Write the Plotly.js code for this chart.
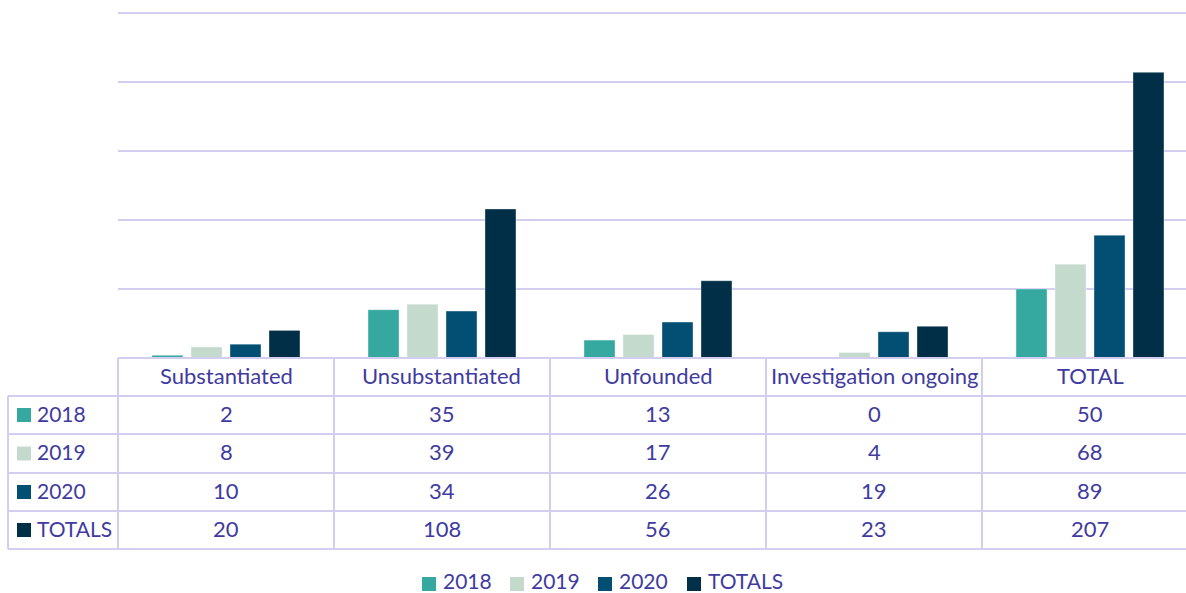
<!DOCTYPE html>
<html><head><meta charset="utf-8">
<script src="https://cdn.plot.ly/plotly-3.0.1.min.js"></script>
<style>html,body{margin:0;padding:0;background:#fff;}#chart{width:1186px;height:593px;}</style>
</head><body><div id="chart"></div>
<script>
const categories = ["Substantiated", "Unsubstantiated", "Unfounded", "Investigation ongoing", "TOTAL"];
const seriesNames = ["2018", "2019", "2020", "TOTALS"];
const values2018 = [2, 35, 13, 0, 50];
const values2019 = [8, 39, 17, 4, 68];
const values2020 = [10, 34, 26, 19, 89];
const valuesTotals = [20, 108, 56, 23, 207];
const seriesValues = [values2018, values2019, values2020, valuesTotals];
const colors = ["#35A9A0", "#C3DACD", "#024F73", "#012F47"];

const W = 1186, H = 593;
const mL = 118, mR = 0, mT = 0, mB = 235;
const plotW = W - mL - mR, plotH = H - mT - mB;
const catPx = 216;
const pxPerUnit = 1.38;
const xr = [-0.5, -0.5 + plotW / catPx];
const yr = [0, plotH / pxPerUnit];
const gridVals = [50, 100, 150, 200, 250];
const textColor = "#3F3BA0";
const lineColor = "#D3CDF0";
const fontFam = "Lato, 'Noto Sans', sans-serif";
const fs = 22;

function px2px(x){ return (x - mL) / plotW; }      // pixel x -> paper x
function py2p(y){ return (H - mB - y) / plotH; }   // pixel y -> paper y
function cat2p(v){ return (v - xr[0]) / (xr[1] - xr[0]); }

const traces = seriesNames.map((n, i) => ({
  type: "bar", name: n, x: categories.map((c, k) => k), y: seriesValues[i],
  marker: {color: colors[i], line: {color: "rgba(255,255,255,0.6)", width: 0.6}},
  hoverinfo: "skip", showlegend: false
}));

const rowY = [358, 396, 434, 473, 511, 549];
const leftX = 8;
const tShift = 2;
const shapes = [], annotations = [];
shapes.push({type:"line", xref:"paper", yref:"paper", x0:0, x1:1, y0:py2p(rowY[0]), y1:py2p(rowY[0]), line:{color:lineColor, width:2}});
for (let r = 1; r < rowY.length; r++) {
  shapes.push({type:"line", xref:"paper", yref:"paper", x0:px2px(leftX), x1:1, y0:py2p(rowY[r]), y1:py2p(rowY[r]), line:{color:lineColor, width:2}});
}
shapes.push({type:"line", xref:"paper", yref:"paper", x0:px2px(leftX), x1:px2px(leftX), y0:py2p(rowY[1]), y1:py2p(rowY[5]), line:{color:lineColor, width:2}});
for (let k = 0; k < categories.length; k++) {
  const xp = cat2p(k - 0.5);
  shapes.push({type:"line", xref:"paper", yref:"paper", x0:xp, x1:xp, y0:py2p(rowY[0]), y1:py2p(rowY[5]), line:{color:lineColor, width:2}});
}
categories.forEach((c, k) => {
  annotations.push({xref:"paper", yref:"paper", x:cat2p(k), y:py2p((rowY[0]+rowY[1])/2 - tShift), text:c, showarrow:false,
    xanchor:"center", yanchor:"middle", font:{family:fontFam, size:fs, color:textColor}});
});
seriesNames.forEach((n, i) => {
  const ycPx = (rowY[i+1] + rowY[i+2]) / 2;
  const yc = py2p(ycPx - tShift);
  shapes.push({type:"rect", xref:"paper", yref:"paper", x0:px2px(17), x1:px2px(31),
    y0:py2p(ycPx - 7), y1:py2p(ycPx + 7), fillcolor:colors[i], line:{width:0}});
  annotations.push({xref:"paper", yref:"paper", x:px2px(35), y:yc, text:n, showarrow:false,
    xanchor:"left", yanchor:"middle", font:{family:fontFam, size:fs - 1, color:textColor}});
  seriesValues[i].forEach((v, k) => {
    annotations.push({xref:"paper", yref:"paper", x:cat2p(k), y:yc, text:String(v), showarrow:false,
      xanchor:"center", yanchor:"middle", font:{family:fontFam, size:fs, color:textColor}});
  });
});
const legendX = [422, 510, 598, 687];
const legendYc = 584;
seriesNames.forEach((n, i) => {
  shapes.push({type:"rect", xref:"paper", yref:"paper", x0:px2px(legendX[i]), x1:px2px(legendX[i]+14),
    y0:py2p(legendYc-7), y1:py2p(legendYc+7), fillcolor:colors[i], line:{width:0}});
  annotations.push({xref:"paper", yref:"paper", x:px2px(legendX[i]+19), y:py2p(legendYc - 4), text:n, showarrow:false,
    xanchor:"left", yanchor:"middle", font:{family:fontFam, size:fs - 1, color:textColor}});
});

const layout = {
  width: W, height: H,
  margin: {l:mL, r:mR, t:mT, b:mB, pad:0},
  paper_bgcolor: "#fff", plot_bgcolor: "#fff",
  barmode: "group", bargap: 0.278, bargroupgap: 0.205,
  xaxis: {range: xr, showticklabels:false, showgrid:false, zeroline:false, showline:false, ticks:"", fixedrange:true},
  yaxis: {range: yr, tickmode:"array", tickvals: gridVals, showticklabels:false, showgrid:true, gridcolor:lineColor, gridwidth:2,
    zeroline:false, showline:false, ticks:"", fixedrange:true},
  showlegend: false,
  shapes: shapes, annotations: annotations
};
Plotly.newPlot("chart", traces, layout, {displayModeBar:false, staticPlot:true});
</script></body></html>
